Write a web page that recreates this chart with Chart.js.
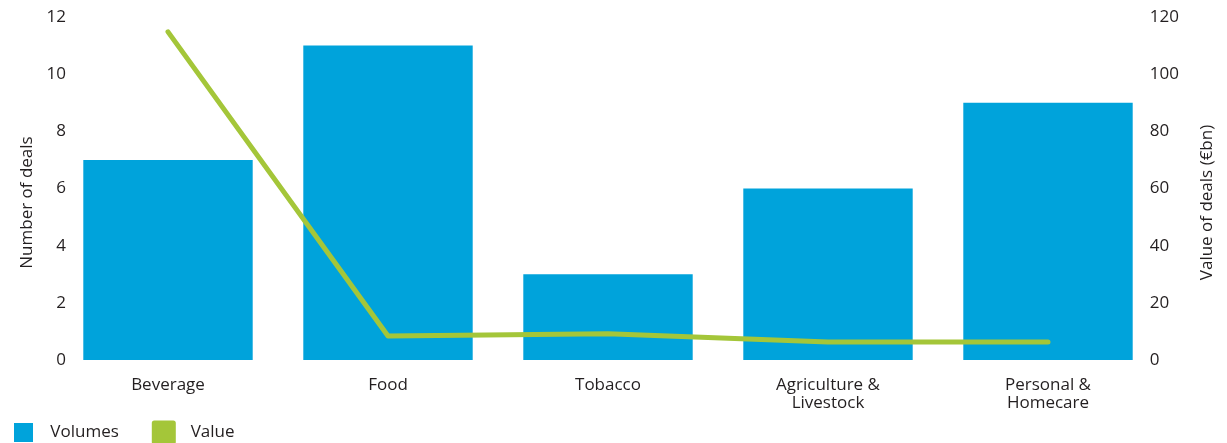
<!DOCTYPE html>
<html>
<head>
<meta charset="utf-8">
<script src="https://cdn.jsdelivr.net/npm/chart.js@4"></script>
<style>
  html, body { margin: 0; padding: 0; background: #fff; }
  #wrap { width: 1227px; height: 443px; }
</style>
</head>
<body>
<div id="wrap"><canvas id="chart"></canvas></div>
<script>
'use strict';

const categories = ['Beverage', 'Food', 'Tobacco', ['Agriculture &', 'Livestock'], ['Personal &', 'Homecare']];
const volumes = [7, 11, 3, 6, 9];
const values = [114.8, 8.4, 9.2, 6.3, 6.3];
const leftTitle = 'Number of deals';
const rightTitle = 'Value of deals (€bn)';

const TEXT = '#231f20';
const BLUE = '#00a3db';
const GREEN = '#a4c639';
const FONT = "'Open Sans', 'Noto Sans', sans-serif";

Chart.defaults.font.family = FONT;
Chart.defaults.font.size = 17;
Chart.defaults.color = TEXT;

// both axis titles read bottom-to-top, so draw them here
const axisTitles = {
  id: 'axisTitles',
  afterDraw(chart) {
    const { ctx, chartArea } = chart;
    const midY = (chartArea.top + chartArea.bottom) / 2 + 14;
    ctx.save();
    ctx.fillStyle = TEXT;
    ctx.font = '17px ' + FONT;
    ctx.textAlign = 'center';
    ctx.textBaseline = 'middle';
    [[27, leftTitle], [1207, rightTitle]].forEach(([x, text]) => {
      ctx.save();
      ctx.translate(x, midY);
      ctx.rotate(-Math.PI / 2);
      ctx.fillText(text, 0, 0);
      ctx.restore();
    });
    ctx.restore();
  }
};

// fixed side widths, and no extra top/bottom padding from the tick labels
const fitSide = (width) => (scale) => {
  scale.width = width;
  scale.paddingTop = 0;
  scale.paddingBottom = 0;
};

new Chart(document.getElementById('chart'), {
  type: 'bar',
  data: {
    labels: categories,
    datasets: [{
      type: 'bar',
      label: 'Volumes',
      data: volumes,
      backgroundColor: BLUE,
      categoryPercentage: 1.0,
      barPercentage: 0.77,
      yAxisID: 'y',
      order: 2,
    }, {
      type: 'line',
      label: 'Value',
      data: values,
      borderColor: GREEN,
      backgroundColor: GREEN,
      borderWidth: 5,
      borderCapStyle: 'round',
      borderJoinStyle: 'round',
      pointRadius: 0,
      tension: 0,
      yAxisID: 'y1',
      order: 1,
    }]
  },
  plugins: [axisTitles],
  options: {
    responsive: true,
    maintainAspectRatio: false,
    animation: false,
    layout: {
      padding: { top: 17, left: 5, right: 0, bottom: -9 }
    },
    plugins: {
      legend: {
        position: 'bottom',
        align: 'start',
        labels: {
          boxWidth: 19,
          boxHeight: 19,
          padding: 9,
          color: TEXT,
          font: { size: 17 },
          sort: (a, b) => a.datasetIndex - b.datasetIndex,
          generateLabels: (chart) => {
            const items = Chart.defaults.plugins.legend.labels.generateLabels(chart);
            items.forEach(item => { item.text = '  ' + item.text + '      '; });
            return items;
          },
        }
      },
      tooltip: { enabled: false },
    },
    scales: {
      x: {
        grid: { display: false, drawTicks: false },
        border: { display: false },
        ticks: { color: TEXT, padding: 16, maxRotation: 0, font: { size: 17, lineHeight: 1.06 } },
        afterFit: (scale) => { scale.height = 54; },
      },
      y: {
        position: 'left',
        min: 0,
        max: 12,
        grid: { display: false, drawTicks: false },
        border: { display: false },
        ticks: { stepSize: 2, color: TEXT, mirror: true, crossAlign: 'far', padding: -11.5 },
        afterFit: fitSide(53),
      },
      y1: {
        position: 'right',
        min: 0,
        max: 120,
        grid: { display: false, drawTicks: false },
        border: { display: false },
        ticks: { stepSize: 20, color: TEXT, mirror: true, crossAlign: 'far', padding: 21 },
        afterFit: fitSide(69),
      }
    }
  }
});
</script>
</body>
</html>
